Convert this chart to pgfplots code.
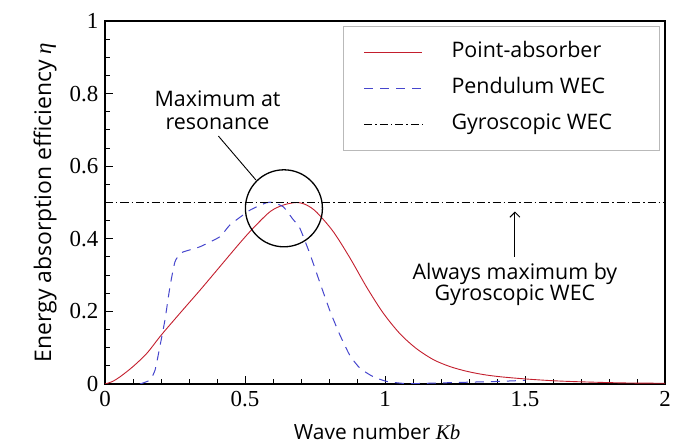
\documentclass[border=0pt]{standalone}
\usepackage{fontspec}
\setmainfont{Open Sans}
\newfontfamily\seriffont{Liberation Serif}
\usepackage{pgfplots}
\pgfplotsset{compat=1.18}
\usetikzlibrary{arrows.meta}
\definecolor{pared}{RGB}{195,30,45}
\definecolor{penblue}{RGB}{70,70,205}
\begin{document}
\begin{tikzpicture}[x=1bp,y=1bp]
\path (-105,-62) rectangle (595,384);
\begin{axis}[
  at={(0,0)}, anchor=south west,
  scale only axis, width=560bp, height=363bp,
  xmin=0, xmax=2, ymin=0, ymax=1,
  xtick={0,0.5,1,1.5,2}, ytick={0,0.2,0.4,0.6,0.8,1},
  minor x tick num=4, minor y tick num=3,
  tick align=inside, tick pos=left,
  major tick length=8bp, minor tick length=4.5bp,
  axis line style={line width=1.2bp},
  tick style={line width=0.9bp, black},
  /pgf/number format/assume math mode=true,
  ticklabel style={font=\seriffont\fontsize{23}{23}\selectfont, inner sep=0bp},
  xticklabel style={yshift=-7.5bp},
  yticklabel style={xshift=-6.5bp},
  xlabel={Wave number {\seriffont\itshape Kb}},
  ylabel={Energy absorption efficiency {\seriffont\itshape η}},
  xlabel style={font=\fontsize{21}{23}\selectfont, at={(axis description cs:0.486,-0.154)}, anchor=base},
  ylabel style={font=\fontsize{23}{25}\selectfont, at={(axis description cs:-0.107,0.5)}, anchor=center},
  legend style={at={(0.991,0.986)}, anchor=north east, draw=gray!55, line width=0.8bp,
    font=\fontsize{21.5}{23}\selectfont, inner xsep=20bp, inner ysep=15.5bp,
    row sep=15bp,
    nodes={inner sep=0bp, text height=16bp, text depth=5bp},
    /tikz/every odd column/.append style={column sep=28.7bp}},
  legend cell align=left,
  legend image code/.code={\draw[#1] (0bp,0bp) -- (58bp,0bp);},
]
\addplot[pared, line width=0.9bp, smooth] coordinates {
(0,0) (0.027,0.007) (0.054,0.02) (0.1,0.048) (0.15,0.085) (0.2,0.134)
(0.27,0.197) (0.34,0.259) (0.41,0.323) (0.48,0.387) (0.53,0.43)
(0.59,0.475) (0.637,0.493) (0.685,0.5) (0.72,0.493) (0.756,0.473)
(0.815,0.42) (0.875,0.347) (0.935,0.266) (0.994,0.195) (1.054,0.138)
(1.113,0.097) (1.173,0.067) (1.232,0.048) (1.292,0.035) (1.351,0.026)
(1.411,0.02) (1.5,0.014) (1.6,0.009) (1.7,0.006) (1.85,0.003) (2.0,0.002)
};
\addlegendentry{\makebox[188bp][l]{Point-absorber}}
\addplot[penblue, line width=1.0bp, dash pattern=on 9bp off 7bp, smooth, tension=0.3] coordinates {
(0.125,0) (0.161,0.011) (0.179,0.039) (0.196,0.103) (0.214,0.176)
(0.232,0.268) (0.25,0.337) (0.274,0.362) (0.339,0.378) (0.411,0.406)
(0.446,0.438) (0.518,0.479) (0.577,0.4995) (0.6,0.5) (0.637,0.488)
(0.67,0.455) (0.696,0.429) (0.732,0.358) (0.768,0.278) (0.804,0.2)
(0.839,0.135) (0.875,0.078) (0.911,0.043) (0.958,0.02) (1.006,0.007)
(1.06,0.002) (1.1,0.001) (1.2,0.003) (1.3,0.005) (1.4,0.007) (1.5,0.01)
};
\addlegendentry{\makebox[188bp][l]{Pendulum WEC}}
\addplot[black, line width=1.0bp, dash pattern=on 8bp off 3bp on 1.5bp off 3bp] coordinates {
(0,0.5) (2,0.5)
};
\addlegendentry{\makebox[188bp][l]{Gyroscopic WEC}}
\draw[line width=1.3bp] (axis cs:0.639,0.484) circle[radius=38.5bp];
\draw[line width=0.9bp] (axis cs:0.405,0.683) -- (axis cs:0.539,0.562);
\node[font=\fontsize{21.5}{23}\selectfont, inner sep=0bp, anchor=base] at (axis cs:0.402,0.764) {Maximum at};
\node[font=\fontsize{21.5}{23}\selectfont, inner sep=0bp, anchor=base] at (axis cs:0.402,0.702) {resonance};
\draw[line width=0.9bp, -{Straight Barb[length=5bp,width=10bp]}] (axis cs:1.464,0.35) -- (axis cs:1.464,0.475);
\node[font=\fontsize{21.5}{23}\selectfont, inner sep=0bp, anchor=base] at (axis cs:1.464,0.288) {Always maximum by};
\node[font=\fontsize{21.5}{23}\selectfont, inner sep=0bp, anchor=base] at (axis cs:1.464,0.229) {Gyroscopic WEC};
\end{axis}
\end{tikzpicture}
\end{document}
